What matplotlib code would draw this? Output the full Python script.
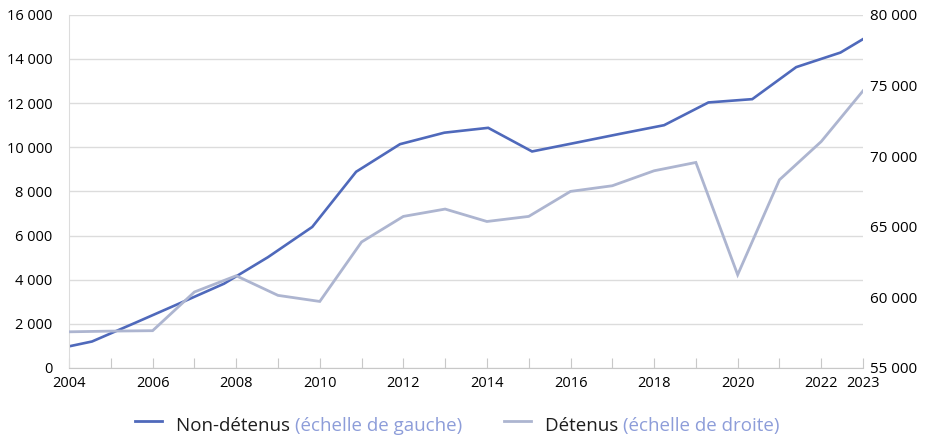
import matplotlib
matplotlib.use("Agg")
from matplotlib import pyplot as plt
from matplotlib.lines import Line2D
from matplotlib.ticker import FuncFormatter

plt.rcParams['font.family'] = ['Open Sans', 'DejaVu Sans']

# Non-détenus (échelle de gauche)
annees_nd = [2004.0, 2004.55, 2005.6, 2006.66, 2007.71, 2008.76, 2009.82, 2010.87,
             2011.92, 2012.98, 2014.03, 2015.08, 2016.14, 2017.19, 2018.24, 2019.3,
             2020.35, 2021.4, 2022.46, 2023.0]
non_detenus = [980, 1200, 2060, 2940, 3820, 5020, 6390, 8890,
               10140, 10660, 10880, 9810, 10210, 10610, 11000, 12030,
               12180, 13630, 14290, 14900]

# Détenus (échelle de droite)
annees_d = list(range(2004, 2024))
detenus = [57560, 57610, 57640, 60380, 61530, 60140, 59710, 63920, 65730, 66250,
           65370, 65730, 67500, 67900, 68960, 69550, 61600, 68320, 71030, 74620]

xticks_labels = [2004, 2006, 2008, 2010, 2012, 2014, 2016, 2018, 2020, 2022, 2023]

bleu = "#4f69bb"
gris = "#adb5d0"
bleu_clair = "#8d9dd9"
grille = "#dcdcdc"

fig = plt.figure(figsize=(9.33, 4.36), dpi=100)
ax = fig.add_axes([0.074, 0.156, 0.851, 0.81])
ax2 = ax.twinx()

ax.plot(annees_nd, non_detenus, color=bleu, lw=1.9, solid_joinstyle='miter')
ax2.plot(annees_d, detenus, color=gris, lw=2.0, solid_joinstyle='miter')

ax.set_xlim(2004, 2023)
ax.set_ylim(0, 16000)
ax2.set_ylim(55000, 80000)
ax.set_yticks(range(0, 16001, 2000))
ax2.set_yticks(range(55000, 80001, 5000))

fmt = FuncFormatter(lambda v, p: f"{int(v):,}".replace(",", " "))
ax.yaxis.set_major_formatter(fmt)
ax2.yaxis.set_major_formatter(fmt)

ax.set_xticks(annees_d)
ax.set_xticklabels([str(a) if a in xticks_labels else "" for a in annees_d])

ax.grid(axis='y', color=grille, lw=1)
ax.set_axisbelow(True)

for a in (ax, ax2):
    for s in ('top', 'right'):
        a.spines[s].set_visible(False)
ax2.spines['left'].set_visible(False)
ax2.spines['bottom'].set_visible(False)
ax.spines['left'].set_color(grille)
ax.spines['bottom'].set_color("#c8c8c8")

ax.tick_params(axis='x', direction='in', length=7, color="#c8c8c8", pad=6, labelsize=10.5)
ax.tick_params(axis='y', length=0, pad=12, labelsize=10.5)
ax2.tick_params(axis='y', length=0, pad=5, labelsize=11)

# Légende
y_leg = 0.012
y_trait = y_leg + 0.022
fig.add_artist(Line2D([0.145, 0.174], [y_trait, y_trait], color=bleu, lw=2))
t1 = fig.text(0.189, y_leg, "Non-détenus ", fontsize=13.5, color="#1e1e1e")
ax.annotate("(échelle de gauche)", xy=(1, 0), xycoords=t1, fontsize=13.5,
            color=bleu_clair, va='bottom', annotation_clip=False)
fig.add_artist(Line2D([0.54, 0.569], [y_trait, y_trait], color=gris, lw=2))
t2 = fig.text(0.584, y_leg, "Détenus ", fontsize=13.5, color="#1e1e1e")
ax.annotate("(échelle de droite)", xy=(1, 0), xycoords=t2, fontsize=13.5,
            color=bleu_clair, va='bottom', annotation_clip=False)

fig.savefig("out.png", dpi=100)
